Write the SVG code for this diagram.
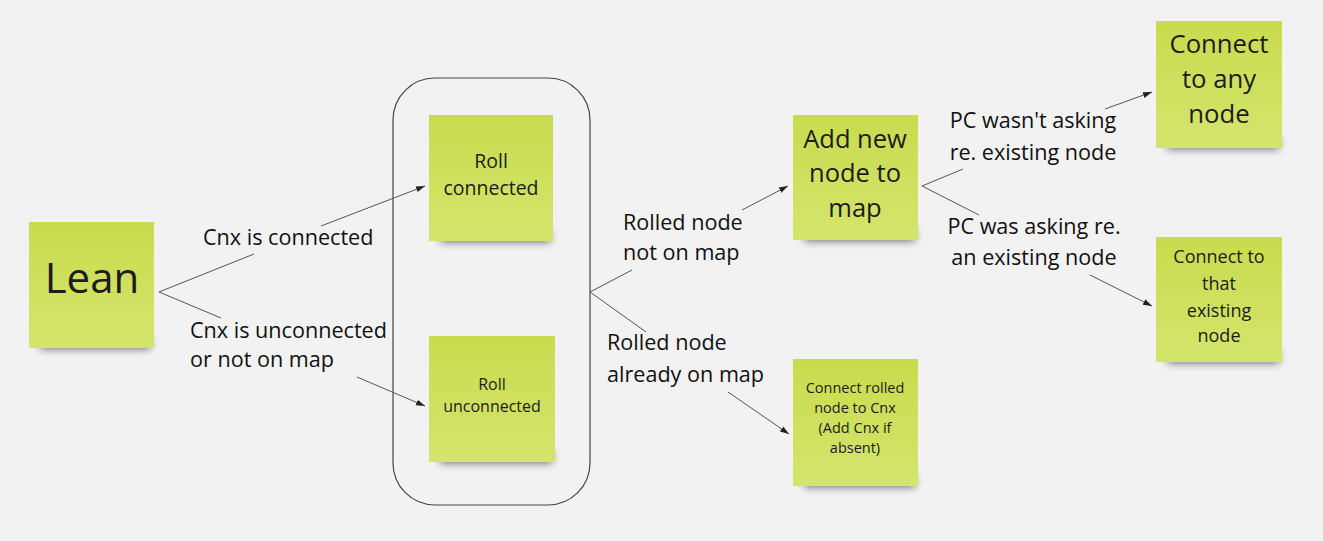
<svg xmlns="http://www.w3.org/2000/svg" width="1323" height="541" viewBox="0 0 1323 541">
<defs>
<style>
.note{fill:url(#g)}
.sh{fill:#000;opacity:.55;filter:url(#blur)}
.t{font-family:"Open Sans","Noto Sans",sans-serif;fill:#1c1c1c;text-anchor:middle}
.lab{font-family:"Open Sans","Noto Sans",sans-serif;fill:#111;font-size:21.6px}
.c{stroke:#555;stroke-width:1;fill:none}
</style>
<linearGradient id="g" x1="0" y1="0" x2="0" y2="1">
<stop offset="0" stop-color="#c9db4d"/>
<stop offset="1" stop-color="#d4e56d"/>
</linearGradient>
<filter id="blur" x="-20%" y="-100%" width="140%" height="300%"><feGaussianBlur stdDeviation="4"/></filter>
<marker id="a" markerWidth="10" markerHeight="8" refX="9" refY="4" orient="auto" markerUnits="userSpaceOnUse">
<path d="M0,1 L9,4 L0,7 Z" fill="#222"/>
</marker>
</defs>
<rect width="1323" height="541" fill="#f2f2f2"/>

<g id="container">
<rect x="393" y="78" width="197" height="427" rx="42" fill="none" stroke="#444" stroke-width="1.2"/>
</g>

<g id="lean">
<rect class="sh" x="40" y="337" width="110" height="12"/>
<rect class="note" x="29" y="222" width="125" height="126"/>
<text class="t" x="92" y="293" font-size="42">Lean</text>
</g>

<g id="roll-connected">
<rect class="sh" x="440" y="230" width="110" height="12"/>
<rect class="note" x="429" y="115" width="124" height="126"/>
<text class="t" x="491" y="168" font-size="19.5">Roll</text>
<text class="t" x="491" y="195" font-size="19.5">connected</text>
</g>

<g id="roll-unconnected">
<rect class="sh" x="440" y="451" width="112" height="12"/>
<rect class="note" x="429" y="336" width="126" height="126"/>
<text class="t" x="492" y="390" font-size="16">Roll</text>
<text class="t" x="492" y="412" font-size="16">unconnected</text>
</g>

<g id="add-new-node">
<rect class="sh" x="804" y="229" width="111" height="12"/>
<rect class="note" x="793" y="115" width="125" height="125"/>
<text class="t" x="855" y="148" font-size="25.5">Add new</text>
<text class="t" x="855" y="182" font-size="25.5">node to</text>
<text class="t" x="855" y="217" font-size="25.5">map</text>
</g>

<g id="connect-rolled">
<rect class="sh" x="804" y="475" width="111" height="12"/>
<rect class="note" x="793" y="359" width="125" height="127"/>
<text class="t" x="855" y="393" font-size="14.5">Connect rolled</text>
<text class="t" x="855" y="413" font-size="14.5">node to Cnx</text>
<text class="t" x="855" y="433" font-size="14.5">(Add Cnx if</text>
<text class="t" x="855" y="453" font-size="14.5">absent)</text>
</g>

<g id="connect-any">
<rect class="sh" x="1167" y="137" width="112" height="12"/>
<rect class="note" x="1156" y="21" width="126" height="127"/>
<text class="t" x="1219" y="53" font-size="25.7">Connect</text>
<text class="t" x="1219" y="88" font-size="25.7">to any</text>
<text class="t" x="1219" y="123" font-size="25.7">node</text>
</g>

<g id="connect-existing">
<rect class="sh" x="1167" y="351" width="112" height="12"/>
<rect class="note" x="1156" y="237" width="126" height="125"/>
<text class="t" x="1219" y="263" font-size="18">Connect to</text>
<text class="t" x="1219" y="290" font-size="18">that</text>
<text class="t" x="1219" y="317" font-size="18">existing</text>
<text class="t" x="1219" y="342" font-size="18">node</text>
</g>

<g id="connectors">
<path class="c" d="M159,292 L254,254"/>
<path class="c" d="M321,226 L425,186" marker-end="url(#a)"/>
<path class="c" d="M159,292 L221,318"/>
<path class="c" d="M357,377 L425,406" marker-end="url(#a)"/>
<path class="c" d="M590,292 L632,270"/>
<path class="c" d="M742,210 L788,186" marker-end="url(#a)"/>
<path class="c" d="M590,292 L646,332"/>
<path class="c" d="M728,392 L789,434" marker-end="url(#a)"/>
<path class="c" d="M922,186 L963,169"/>
<path class="c" d="M1105,109 L1152,92" marker-end="url(#a)"/>
<path class="c" d="M922,186 L979,215"/>
<path class="c" d="M1090,275 L1152,306" marker-end="url(#a)"/>
</g>

<g id="labels">
<text class="lab" x="203" y="245">Cnx is connected</text>
<text class="lab" x="190" y="338">Cnx is unconnected</text>
<text class="lab" x="190" y="367">or not on map</text>
<text class="lab" x="623" y="230">Rolled node</text>
<text class="lab" x="623" y="260">not on map</text>
<text class="lab" x="607" y="350">Rolled node</text>
<text class="lab" x="607" y="382">already on map</text>
<text class="lab" x="1033" y="128" text-anchor="middle">PC wasn't asking</text>
<text class="lab" x="1033" y="160" text-anchor="middle">re. existing node</text>
<text class="lab" x="1034" y="234" text-anchor="middle">PC was asking re.</text>
<text class="lab" x="1034" y="265" text-anchor="middle">an existing node</text>
</g>
</svg>
